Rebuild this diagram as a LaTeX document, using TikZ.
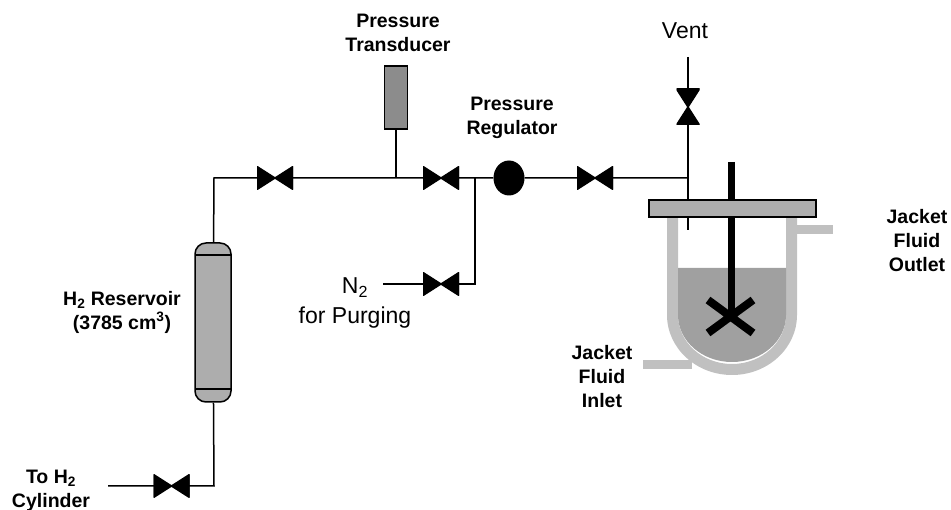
\documentclass[tikz,border=0pt]{standalone}
\usepackage{fontspec}
\setmainfont{Liberation Sans}
\usepackage{tikz}
\usetikzlibrary{positioning,shapes.geometric}
\definecolor{JacketGray}{HTML}{C0C0C0}
\definecolor{FluidGray}{HTML}{A0A0A0}
\definecolor{TankGray}{HTML}{ADADAD}
\definecolor{GaugeGray}{HTML}{8C8C8C}
\begin{document}
\begin{tikzpicture}[
  x=1pt, y=-1pt,
  line/.style={line width=1.5pt},
  lbl/.style={font=\fontsize{19.5}{24}\selectfont\bfseries, align=center, inner sep=0pt},
  plain/.style={font=\fontsize{23}{30}\selectfont, align=center, inner sep=0pt},
  hvalve/.style={inner sep=0pt, minimum width=36pt, minimum height=23pt,
    path picture={\filldraw[line width=1.5pt] (path picture bounding box.north west) -- (path picture bounding box.south east)
      -- (path picture bounding box.north east) -- (path picture bounding box.south west) -- cycle;}},
  vvalve/.style={inner sep=0pt, minimum width=23pt, minimum height=36pt,
    path picture={\filldraw[line width=1.5pt] (path picture bounding box.north west) -- (path picture bounding box.south east)
      -- (path picture bounding box.south west) -- (path picture bounding box.north east) -- cycle;}}]
  \useasboundingbox (0,0) rectangle (951,510);
  % jacket and vessel
  \fill[JacketGray] (667,217) -- (667,315) arc[start angle=180, end angle=0, x radius=65, y radius=60]
    -- (797,217) -- (786,217) -- (786,315) arc[start angle=0, end angle=180, x radius=54, y radius=49]
    -- (678,217) -- cycle;
  \fill[JacketGray] (797,225) rectangle (833,234);
  \fill[JacketGray] (643,360) rectangle (692,369);
  \fill[FluidGray] (678,268) -- (678,315) arc[start angle=180, end angle=0, x radius=54, y radius=47]
    -- (786,268) -- cycle;
  % pipe corners and free ends
  \coordinate (cylEnd) at (108,486);
  \coordinate (cylCorner) at (214,486);
  \coordinate (topCorner) at (214,178);
  \coordinate (teeGauge) at (396,178);
  \coordinate (teeN) at (475,178);
  \coordinate (cornerN) at (475,284);
  \coordinate (nEnd) at (383,284);
  \coordinate (teeVent) at (688,178);
  \coordinate (dipEnd) at (688,230);
  \coordinate (ventEnd) at (688,57);
  \coordinate (shaftTop) at (731.5,162);
  \coordinate (shaftEnd) at (731.5,315);
  % reservoir
  \node[draw, line width=1.5pt, fill=TankGray, rounded corners=11pt, minimum width=36pt,
    minimum height=159pt, inner sep=0pt] (tank) at (213,322.5) {};
  \draw[line] (195,255) -- (231,255) (195,389) -- (231,389);
  % valves and instruments
  \node[hvalve] (v1) at (171.5,486) {};
  \node[hvalve] (v2) at (275,178) {};
  \node[hvalve] (v3) at (441,178) {};
  \node[hvalve] (v4) at (441,284) {};
  \node[hvalve] (v5) at (595,178) {};
  \node[vvalve] (v6) at (688,107) {};
  \node[draw, line width=1.5pt, fill=GaugeGray, minimum width=23pt, minimum height=63pt, inner sep=0pt] (gauge) at (396,97.5) {};
  \node[ellipse, fill=black, minimum width=31pt, minimum height=35pt, inner sep=0pt] (reg) at (509,178) {};
  % piping
  \draw[line] (cylEnd) -- (v1.center) -- (cylCorner) -- (tank);
  \draw[line] (tank) -- (topCorner) -- (v2.center) -- (v3.center) -- (reg) (reg) -- (v5.center) -- (teeVent);
  \draw[line] (teeGauge) -- (gauge);
  \draw[line] (teeN) -- (cornerN) -- (v4.center) -- (nEnd);
  \draw[line] (ventEnd) -- (v6.center) -- (dipEnd);
  % stirrer and lid
  \draw[line width=7pt] (shaftTop) -- (shaftEnd);
  \node[draw, line width=1.5pt, fill=TankGray, minimum width=167pt, minimum height=17pt, inner sep=0pt] (lid) at (732.5,208.5) {};
  \draw[line width=8pt] (708,300) -- (753,333) (753,300) -- (708,333);
  % labels
  \node[lbl] (lblGauge) at (398,33) {Pressure\\Transducer};
  \node[lbl] (lblReg) at (512,118) {Pressure\\Regulator};
  \node[lbl] (lblTank) at (122,312) {H\textsubscript{2} Reservoir\\(3785 cm\textsuperscript{3})};
  \node[lbl] (lblCyl) at (51,491) {To H\textsubscript{2}\\Cylinder};
  \node[lbl] (lblOut) at (917,241) {Jacket\\Fluid\\Outlet};
  \node[lbl] (lblIn) at (602,377) {Jacket\\Fluid\\Inlet};
  \node[plain] (lblVent) at (685,31) {Vent};
  \node[plain] (lblN) at (355,303) {N\textsubscript{2}\\for Purging};
\end{tikzpicture}
\end{document}
